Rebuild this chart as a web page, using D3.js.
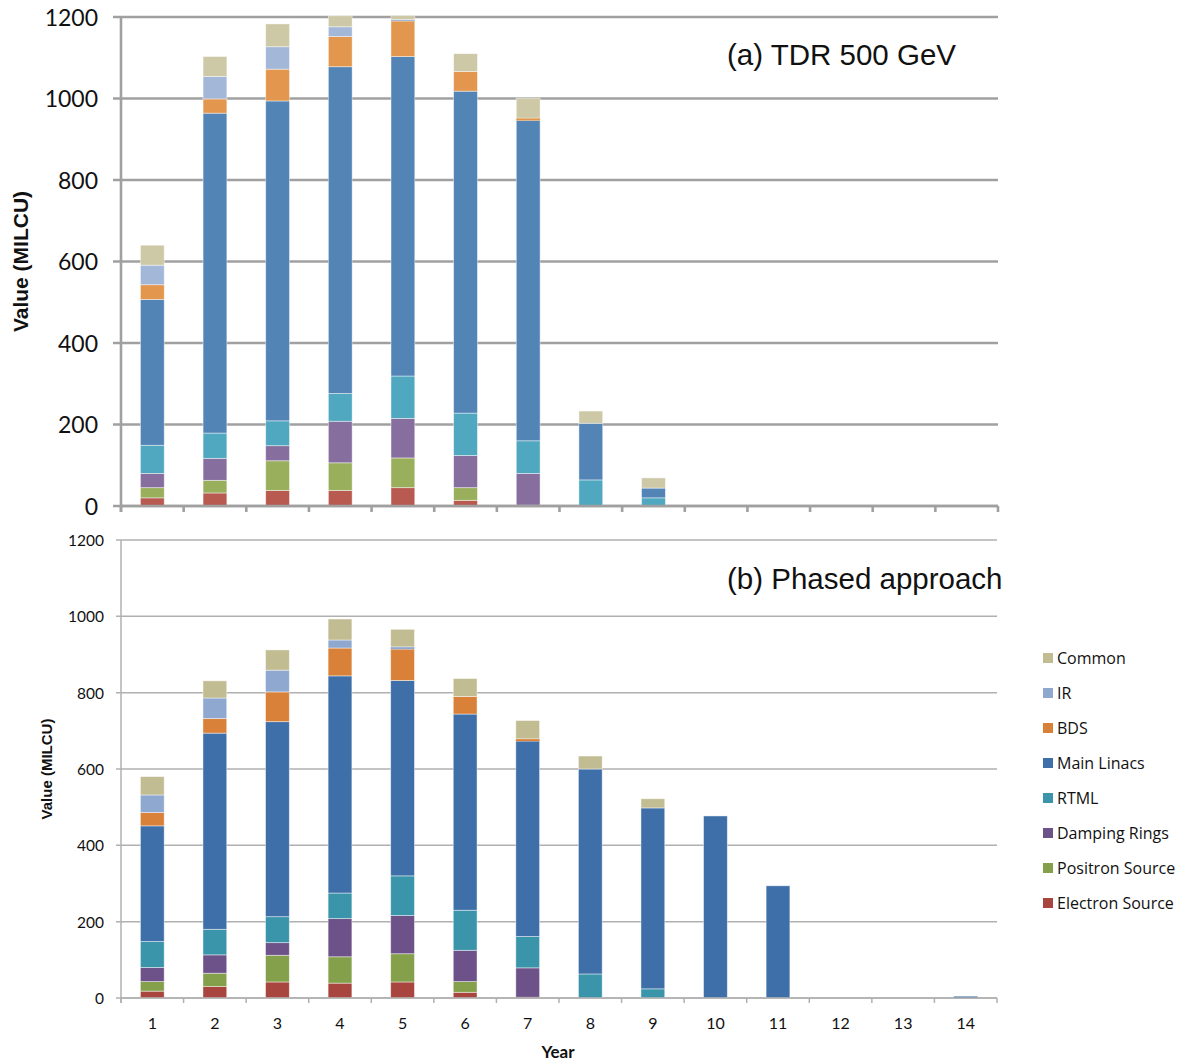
<!DOCTYPE html>
<html>
<head>
<meta charset="utf-8">
<script src="https://cdn.jsdelivr.net/npm/d3@7/dist/d3.min.js"></script>
<style>
  html, body { margin: 0; padding: 0; background: #fff; }
  svg { display: block; }
  text { font-family: Lato, "Open Sans", "Liberation Sans", sans-serif; fill: #111; }
</style>
</head>
<body>
<svg id="chart" width="1185" height="1063"></svg>
<script>
// Cost profile per year by area system (MILCU)
const years = [1, 2, 3, 4, 5, 6, 7, 8, 9, 10, 11, 12, 13, 14];
const systems = ["Electron Source", "Positron Source", "Damping Rings", "RTML",
                 "Main Linacs", "BDS", "IR", "Common"];
const yTicks = [0, 200, 400, 600, 800, 1000, 1200];

// (a) TDR 500 GeV
const tdrElectron = [20, 32, 38, 38, 45, 14, 2, 0, 0, 0, 0, 0, 0, 0];
const tdrPositron = [25, 31, 73, 68, 73, 31, 0, 0, 0, 0, 0, 0, 0, 0];
const tdrDamping  = [35, 54, 37, 102, 97, 79, 78, 0, 0, 0, 0, 0, 0, 0];
const tdrRTML     = [69, 62, 61, 68, 104, 104, 80, 64, 20, 0, 0, 0, 0, 0];
const tdrLinacs   = [358, 785, 785, 802, 784, 790, 786, 139, 24, 0, 0, 0, 0, 0];
const tdrBDS      = [36, 35, 78, 74, 87, 48, 6, 0, 0, 0, 0, 0, 0, 0];
const tdrIR       = [48, 55, 55, 24, 4, 0, 0, 0, 0, 0, 0, 0, 0, 0];
const tdrCommon   = [49, 49, 56, 27, 10, 44, 49, 30, 25, 0, 0, 0, 0, 0];

// (b) Phased approach
const phElectron = [18, 30, 42, 39, 42, 15, 2, 0, 0, 0, 0, 0, 0, 0];
const phPositron = [25, 35, 70, 69, 74, 28, 0, 0, 0, 0, 0, 0, 0, 0];
const phDamping  = [37, 48, 33, 100, 100, 82, 77, 0, 0, 0, 0, 0, 0, 0];
const phRTML     = [68, 67, 68, 67, 104, 105, 82, 63, 24, 0, 0, 0, 0, 0];
const phLinacs   = [303, 514, 511, 569, 512, 514, 512, 537, 474, 477, 294, 0, 0, 4];
const phBDS      = [35, 38, 78, 73, 82, 46, 6, 0, 0, 0, 0, 0, 0, 0];
const phIR       = [46, 54, 57, 21, 6, 0, 0, 0, 0, 0, 0, 0, 0, 0];
const phCommon   = [48, 45, 53, 55, 46, 47, 48, 34, 24, 0, 0, 0, 0, 0];

const tdrColors = ["#b95a51", "#9aaf5c", "#866e9e", "#4fa8bf",
                   "#5384b6", "#e3964d", "#a3b7d9", "#cdc8a6"];
const phColors  = ["#a8453f", "#84a04a", "#6d528a", "#3a95aa",
                   "#3f6fa8", "#d98139", "#8fa8d0", "#c2bc92"];

function rows(series) {
  return years.map((yr, i) => {
    const r = { year: yr };
    systems.forEach((s, k) => { r[s] = series[k][i]; });
    return r;
  });
}

const svg = d3.select("#chart");

function drawPanel(cfg) {
  const x = d3.scaleBand().domain(years).range([cfg.left, cfg.right])
    .paddingInner(0.62).paddingOuter(0.31);
  const y = d3.scaleLinear().domain([0, 1200]).range([cfg.bottom, cfg.top]);
  const g = svg.append("g");

  // horizontal gridlines
  g.append("g").selectAll("line").data(yTicks).join("line")
    .attr("x1", cfg.left - cfg.tickLen).attr("x2", cfg.right)
    .attr("y1", d => y(d)).attr("y2", d => y(d))
    .attr("stroke", cfg.gridColor).attr("stroke-width", cfg.gridWidth);

  // y axis labels via d3 axis
  const yAxis = d3.axisLeft(y).tickValues(yTicks).tickFormat(d3.format("d"))
    .tickSize(0).tickPadding(0);
  const ya = g.append("g").attr("transform", `translate(${cfg.labelRight},0)`).call(yAxis);
  ya.select(".domain").remove();
  ya.selectAll("text").style("font-size", cfg.tickFont + "px")
    .style("font-family", 'Lato, "Open Sans", sans-serif').attr("fill", "#111")
    .attr("dy", "0.35em");

  // stacked bars; very thin segments are drawn without the light edge
  const stack = d3.stack().keys(systems)(rows(cfg.data));
  g.append("g").selectAll("g").data(stack).join("g")
    .attr("fill", (d, i) => cfg.colors[i])
    .selectAll("rect").data(d => d.filter(v => v[1] - v[0] > 0)).join("rect")
    .attr("x", d => x(d.data.year))
    .attr("width", x.bandwidth())
    .attr("y", d => y(d[1]))
    .attr("height", d => y(d[0]) - y(d[1]))
    .attr("stroke", "#ffffff")
    .attr("stroke-opacity", d => (y(d[0]) - y(d[1]) < 3 ? 0 : 0.55))
    .attr("stroke-width", 0.8);

  // value axis line
  g.append("line").attr("x1", cfg.left).attr("x2", cfg.left)
    .attr("y1", cfg.top).attr("y2", cfg.bottom + cfg.xTickLen)
    .attr("stroke", cfg.gridColor).attr("stroke-width", cfg.axisWidth);
  // category axis line and tick marks at category boundaries
  g.append("line").attr("x1", cfg.left).attr("x2", cfg.right)
    .attr("y1", cfg.bottom).attr("y2", cfg.bottom)
    .attr("stroke", cfg.gridColor).attr("stroke-width", cfg.axisWidth);
  const bounds = d3.range(years.length + 1).map(i => cfg.left + i * x.step());
  g.append("g").selectAll("line").data(bounds).join("line")
    .attr("x1", d => d).attr("x2", d => d)
    .attr("y1", cfg.bottom).attr("y2", cfg.bottom + cfg.xTickLen)
    .attr("stroke", cfg.gridColor).attr("stroke-width", cfg.axisWidth);

  if (cfg.showYears) {
    g.append("g").selectAll("text").data(years).join("text")
      .attr("x", d => x(d) + x.bandwidth() / 2).attr("y", cfg.bottom + 31)
      .attr("text-anchor", "middle").style("font-size", "16px").text(d => d);
  }

  // y axis title
  g.append("text")
    .attr("transform", `translate(${cfg.titleX},${(cfg.top + cfg.bottom) / 2}) rotate(-90)`)
    .attr("text-anchor", "middle")
    .style("font-family", '"Liberation Sans", Arial, sans-serif')
    .style("font-size", cfg.titleFont + "px")
    .style("font-weight", "bold").text("Value (MILCU)");

  // panel caption
  g.append("text").attr("x", cfg.captionX).attr("y", cfg.captionY)
    .style("font-family", '"Liberation Sans", Arial, sans-serif')
    .style("font-size", "29.5px").text(cfg.caption);
  return { x, y };
}

drawPanel({
  data: [tdrElectron, tdrPositron, tdrDamping, tdrRTML, tdrLinacs, tdrBDS, tdrIR, tdrCommon],
  colors: tdrColors, left: 121, right: 998, top: 17, bottom: 506,
  gridColor: "#a0a0a0", gridWidth: 2.4, axisWidth: 2.6, tickLen: 8, xTickLen: 6,
  labelRight: 98, tickFont: 23, titleX: 28, titleFont: 21,
  caption: "(a) TDR 500 GeV", captionX: 727, captionY: 65, showYears: false
});

drawPanel({
  data: [phElectron, phPositron, phDamping, phRTML, phLinacs, phBDS, phIR, phCommon],
  colors: phColors, left: 121, right: 997, top: 540, bottom: 998,
  gridColor: "#b0b0b0", gridWidth: 1.5, axisWidth: 1.5, tickLen: 5, xTickLen: 5,
  labelRight: 104, tickFont: 15.5, titleX: 52, titleFont: 15,
  caption: "(b) Phased approach", captionX: 727, captionY: 589, showYears: true
});

// x axis title
svg.append("text").attr("x", 558).attr("y", 1058).attr("text-anchor", "middle")
  .style("font-size", "17px").style("font-weight", "bold").text("Year");

// legend, listed top to bottom in reverse stacking order
const legend = svg.append("g");
const legendItems = systems.map((s, i) => ({ name: s, color: phColors[i] })).reverse();
const ly = d3.scalePoint().domain(legendItems.map(d => d.name)).range([658, 903]);
legend.selectAll("rect").data(legendItems).join("rect")
  .attr("x", 1043).attr("y", d => ly(d.name) - 5).attr("width", 10).attr("height", 10)
  .attr("fill", d => d.color);
legend.selectAll("text").data(legendItems).join("text")
  .attr("x", 1057).attr("y", d => ly(d.name)).attr("dy", "0.35em")
  .style("font-family", '"Open Sans", Lato, sans-serif')
  .style("font-size", "16px").text(d => d.name);
</script>
</body>
</html>
